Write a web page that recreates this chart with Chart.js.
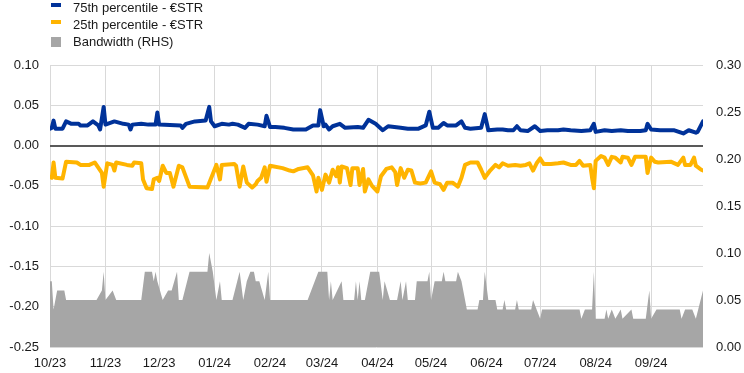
<!DOCTYPE html>
<html>
<head>
<meta charset="utf-8">
<script src="https://cdn.jsdelivr.net/npm/chart.js@4.4.1/dist/chart.umd.min.js"></script>
<style>
  body { margin: 0; background: #fff; }
  #wrap { position: relative; width: 744px; height: 373px; }
  #legend { position: absolute; left: 0; top: 0; font: 13px "Liberation Sans", Arial, sans-serif; color: #1a1a1a; }
  .item { position: absolute; left: 73px; line-height: 16px; white-space: nowrap; }
  .key { position: absolute; left: 51px; width: 10px; }
</style>
</head>
<body>
<div id="wrap">
  <canvas id="chart" width="744" height="373"></canvas>
  <div id="legend"></div>
</div>
<script>
// month ticks, x values are days since 1 Oct 2023
const tickLabels = ['10/23', '11/23', '12/23', '01/24', '02/24', '03/24', '04/24', '05/24', '06/24', '07/24', '08/24', '09/24'];
const lastDay = 365; // 30 Sep 2024

// [day, value] pairs
const p75 = [[0,0.021],[1,0.022],[2,0.031],[3,0.021],[7,0.021],[9,0.030],[12,0.027],[16,0.027],[17,0.025],[21,0.025],[24,0.030],[27,0.025],[28,0.020],[30,0.048],[31,0.026],[36,0.030],[41,0.027],[44,0.026],[45,0.020],[46,0.026],[51,0.027],[55,0.026],[59,0.026],[60,0.041],[61,0.026],[73,0.025],[74,0.022],[76,0.027],[81,0.030],[87,0.031],[89,0.048],[90,0.030],[92,0.024],[96,0.027],[100,0.026],[102,0.027],[105,0.026],[109,0.022],[111,0.027],[116,0.026],[120,0.024],[121,0.037],[123,0.023],[126,0.023],[131,0.022],[136,0.020],[143,0.020],[147,0.025],[150,0.025],[151,0.044],[153,0.024],[154,0.026],[156,0.020],[158,0.024],[162,0.027],[165,0.022],[172,0.023],[175,0.022],[178,0.032],[182,0.027],[186,0.019],[189,0.024],[196,0.022],[200,0.021],[206,0.021],[210,0.025],[212,0.042],[214,0.022],[217,0.022],[220,0.028],[222,0.025],[227,0.025],[230,0.030],[232,0.022],[235,0.021],[241,0.022],[243,0.039],[245,0.019],[250,0.020],[253,0.020],[256,0.019],[259,0.019],[261,0.024],[263,0.019],[267,0.018],[271,0.024],[274,0.018],[278,0.019],[284,0.019],[287,0.020],[291,0.019],[297,0.018],[302,0.019],[304,0.027],[305,0.017],[310,0.019],[314,0.018],[319,0.019],[323,0.018],[330,0.018],[333,0.019],[334,0.027],[336,0.020],[341,0.019],[349,0.019],[354,0.015],[357,0.019],[361,0.016],[362,0.017],[365,0.030]];

const p25 = [[0,-0.039],[1,-0.040],[2,-0.021],[3,-0.040],[7,-0.041],[9,-0.020],[15,-0.021],[17,-0.024],[22,-0.024],[25,-0.021],[29,-0.034],[30,-0.051],[32,-0.022],[35,-0.024],[36,-0.031],[37,-0.021],[43,-0.024],[46,-0.025],[47,-0.021],[51,-0.022],[52,-0.042],[54,-0.053],[57,-0.054],[58,-0.042],[60,-0.040],[61,-0.044],[63,-0.025],[65,-0.034],[67,-0.034],[69,-0.051],[72,-0.025],[74,-0.027],[78,-0.051],[88,-0.052],[93,-0.024],[95,-0.042],[96,-0.024],[103,-0.023],[104,-0.025],[106,-0.051],[108,-0.026],[110,-0.046],[113,-0.052],[115,-0.048],[116,-0.044],[118,-0.040],[120,-0.027],[121,-0.045],[123,-0.025],[130,-0.028],[134,-0.031],[136,-0.032],[139,-0.029],[144,-0.027],[147,-0.037],[149,-0.057],[150,-0.040],[152,-0.055],[154,-0.036],[156,-0.046],[158,-0.030],[160,-0.038],[161,-0.027],[162,-0.046],[163,-0.026],[166,-0.028],[168,-0.049],[169,-0.028],[172,-0.028],[173,-0.049],[175,-0.029],[176,-0.057],[178,-0.042],[180,-0.050],[183,-0.057],[185,-0.038],[188,-0.029],[191,-0.027],[193,-0.033],[194,-0.049],[196,-0.028],[198,-0.040],[200,-0.030],[202,-0.031],[204,-0.046],[207,-0.047],[210,-0.046],[213,-0.032],[215,-0.046],[218,-0.048],[220,-0.055],[222,-0.046],[225,-0.046],[228,-0.051],[230,-0.040],[232,-0.024],[235,-0.021],[239,-0.021],[241,-0.030],[243,-0.040],[246,-0.031],[249,-0.024],[251,-0.027],[253,-0.022],[256,-0.025],[260,-0.024],[263,-0.025],[266,-0.024],[268,-0.022],[270,-0.031],[272,-0.022],[274,-0.016],[276,-0.023],[280,-0.023],[284,-0.022],[287,-0.021],[291,-0.024],[294,-0.024],[296,-0.019],[298,-0.025],[302,-0.024],[303,-0.040],[304,-0.053],[305,-0.019],[308,-0.013],[310,-0.015],[312,-0.024],[314,-0.014],[316,-0.015],[319,-0.021],[320,-0.014],[323,-0.015],[325,-0.024],[327,-0.014],[333,-0.014],[334,-0.034],[336,-0.015],[338,-0.020],[340,-0.021],[347,-0.020],[351,-0.024],[354,-0.015],[355,-0.024],[358,-0.024],[360,-0.015],[361,-0.025],[364,-0.030],[365,-0.031]];

const bandwidth = [[0,0.07],[1,0.07],[2,0.04],[4,0.06],[8,0.06],[9,0.05],[26,0.05],[29,0.06],[30,0.08],[31,0.05],[35,0.06],[37,0.05],[51,0.05],[53,0.08],[57,0.08],[58,0.07],[59,0.08],[60,0.07],[63,0.05],[66,0.06],[68,0.06],[71,0.08],[72,0.05],[74,0.05],[78,0.08],[88,0.08],[89,0.10],[91,0.08],[93,0.05],[95,0.07],[96,0.05],[102,0.05],[106,0.08],[108,0.05],[110,0.07],[112,0.08],[114,0.08],[115,0.07],[117,0.07],[120,0.05],[122,0.08],[123,0.05],[144,0.05],[150,0.08],[155,0.08],[156,0.05],[157,0.07],[158,0.05],[163,0.07],[164,0.05],[170,0.05],[171,0.07],[172,0.05],[173,0.07],[174,0.05],[176,0.05],[179,0.08],[184,0.08],[186,0.05],[187,0.07],[190,0.05],[194,0.05],[196,0.07],[197,0.05],[199,0.07],[200,0.05],[204,0.05],[205,0.07],[211,0.07],[212,0.08],[213,0.05],[215,0.07],[219,0.07],[220,0.08],[221,0.07],[227,0.07],[228,0.08],[230,0.07],[233,0.04],[239,0.04],[240,0.05],[242,0.05],[243,0.08],[245,0.05],[249,0.05],[250,0.04],[253,0.04],[254,0.05],[255,0.04],[260,0.04],[261,0.05],[262,0.04],[269,0.04],[270,0.05],[272,0.04],[274,0.03],[275,0.04],[296,0.04],[297,0.03],[299,0.04],[303,0.04],[304,0.08],[305,0.03],[310,0.03],[311,0.04],[312,0.03],[314,0.04],[316,0.03],[319,0.04],[320,0.03],[325,0.04],[326,0.03],[333,0.03],[335,0.06],[336,0.03],[339,0.04],[352,0.04],[353,0.03],[355,0.04],[359,0.04],[361,0.03],[365,0.06]];

const labels = ['75th percentile - €STR', '25th percentile - €STR', 'Bandwidth (RHS)'];
const colors = ['#003299', '#ffb400', '#a6a6a6'];

const start = Date.UTC(2023, 9, 1);
const tickDays = tickLabels.map((l, i) => (Date.UTC(2023, 9 + i, 1) - start) / 864e5);

const toXY = arr => arr.map(p => ({x: p[0], y: p[1]}));
const fmt = v => Math.abs(v) < 1e-9 ? '0.00' : v.toFixed(2);
const font = {family: '"Liberation Sans", Arial, sans-serif', size: 13};
const textColor = '#1a1a1a';
const gridColor = '#d9d9d9';

// legend as html
const legendEl = document.getElementById('legend');
labels.forEach((l, i) => {
    const top = i * 17;
    const key = document.createElement('div');
    key.className = 'key';
    key.style.background = colors[i];
    key.style.top = (top + 3) + 'px';
    key.style.height = (i < 2 ? 4 : 10) + 'px';
    const txt = document.createElement('div');
    txt.className = 'item';
    txt.style.top = top + 'px';
    txt.textContent = l;
    legendEl.appendChild(key);
    legendEl.appendChild(txt);
});

const lineDefaults = {pointRadius: 0, borderWidth: 4, fill: false, tension: 0, borderJoinStyle: 'round', borderCapStyle: 'round'};

new Chart(document.getElementById('chart'), {
    type: 'line',
    data: {
        datasets: [
            {...lineDefaults, label: labels[0], data: toXY(p75), borderColor: colors[0], yAxisID: 'y'},
            {...lineDefaults, label: labels[1], data: toXY(p25), borderColor: colors[1], yAxisID: 'y'},
            {label: labels[2], data: toXY(bandwidth), yAxisID: 'y1', pointRadius: 0, borderWidth: 0,
                borderColor: 'rgba(0,0,0,0)', backgroundColor: colors[2], fill: 'origin', tension: 0}
        ]
    },
    options: {
        responsive: false,
        animation: false,
        devicePixelRatio: 1,
        layout: {padding: {top: 65, left: 0, right: 0, bottom: 0}},
        plugins: {legend: {display: false}, tooltip: {enabled: false}},
        scales: {
            x: {
                type: 'linear', min: 0, max: lastDay,
                afterBuildTicks: s => { s.ticks = tickDays.map(v => ({value: v})); },
                afterFit: s => { s.height = 26; },
                ticks: {autoSkip: false, maxRotation: 0, padding: 9, font: font, color: textColor,
                    callback: (v, i) => tickLabels[i]},
                grid: {color: gridColor, drawTicks: false},
                border: {display: false}
            },
            y: {
                position: 'left', min: -0.25, max: 0.10,
                afterFit: s => { s.width = 50; },
                ticks: {stepSize: 0.05, padding: 11, font: font, color: textColor, callback: v => fmt(v)},
                grid: {
                    drawTicks: false,
                    color: c => Math.abs(c.tick.value) < 1e-9 ? '#595959' : gridColor,
                    lineWidth: c => Math.abs(c.tick.value) < 1e-9 ? 2 : 1
                },
                border: {display: false}
            },
            y1: {
                position: 'right', min: 0, max: 0.30,
                afterFit: s => { s.width = 41; },
                ticks: {stepSize: 0.05, padding: 13, font: font, color: textColor, callback: v => fmt(v)},
                grid: {display: false, drawTicks: false},
                border: {display: false}
            }
        }
    }
});
</script>
</body>
</html>
